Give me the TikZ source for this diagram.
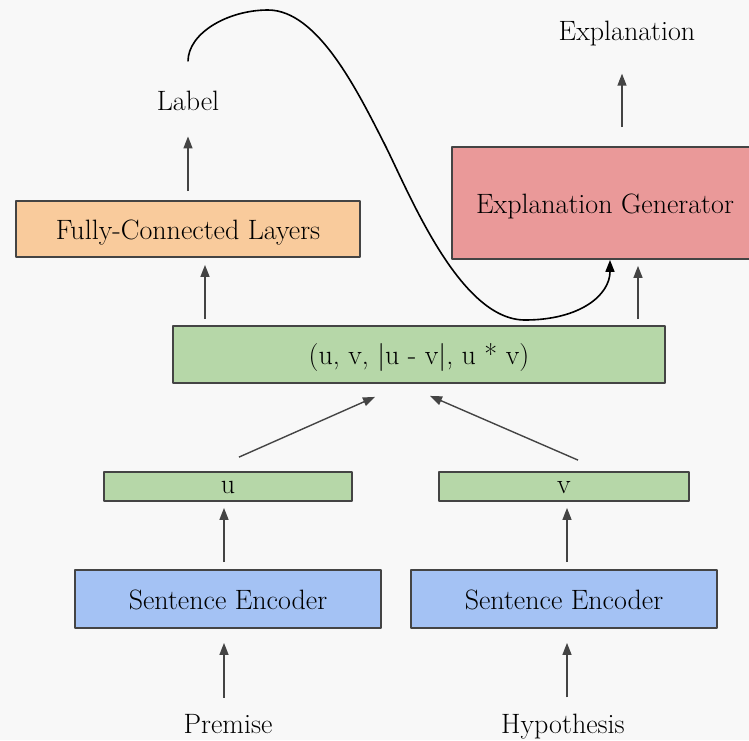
\documentclass[tikz,border=0pt]{standalone}
\usepackage{xcolor}
\usetikzlibrary{arrows.meta,calc,positioning}
\definecolor{PageGray}{HTML}{F8F8F8}
\definecolor{LineGray}{HTML}{444444}
\definecolor{FcFill}{HTML}{F9CB9C}
\definecolor{GenFill}{HTML}{EA9999}
\definecolor{VecFill}{HTML}{B6D7A8}
\definecolor{EncFill}{HTML}{A4C2F4}

\begin{document}
\begin{tikzpicture}[x=1pt,y=-1pt, line join=round,
  box/.style={draw=LineGray, line width=1.8pt, inner sep=0pt, text height=22pt, text depth=2pt,
              font=\fontsize{28}{32}\selectfont},
  word/.style={inner sep=0pt, anchor=base, font=\fontsize{28}{32}\selectfont},
  arr/.style={-{Triangle[length=12pt,width=9pt]}, LineGray, line width=1.4pt},
  curvearr/.style={-{Triangle[length=12pt,width=9pt]}, black, line width=1.6pt}]

% page
\useasboundingbox (0,0) rectangle (749,740);
\fill[PageGray] (0,0) rectangle (749,740);

% boxes
\node[box, fill=FcFill, minimum width=344pt, minimum height=56pt] (fc) at (188,229) {Fully-Connected Layers};
\node[box, fill=GenFill, minimum width=306pt, minimum height=112pt] (gen) at (605,203) {Explanation Generator};
\node[box, fill=VecFill, minimum width=492pt, minimum height=57pt] (feat) at (419,354.5) {(u, v, |u - v|, u * v)};
\node[box, fill=VecFill, minimum width=248pt, minimum height=29pt, text height=14pt, text depth=0pt] (uvec) at (228,486.5) {u};
\node[box, fill=VecFill, minimum width=250pt, minimum height=29pt, text height=14pt, text depth=0pt] (vvec) at (564,486.5) {v};
\node[box, fill=EncFill, minimum width=306pt, minimum height=58pt] (encp) at (228,599) {Sentence Encoder};
\node[box, fill=EncFill, minimum width=306pt, minimum height=58pt] (ench) at (564,599) {Sentence Encoder};

% texts
\node[word] (lbl) at (188,110) {Label};
\node[word] (expl) at (627,40) {Explanation};
\node[word] (prem) at (228,733) {Premise};
\node[word] (hyp) at (563,733) {Hypothesis};

% inputs to encoders
\draw[arr] ([xshift=-4pt,yshift=16pt]prem.north) -- ([xshift=-4pt,yshift=-14pt]encp.south);
\draw[arr] ([xshift=4pt,yshift=16pt]hyp.north) -- ([xshift=3pt,yshift=-14pt]ench.south);

% encoders to vectors
\draw[arr] ([xshift=-4pt,yshift=7pt]encp.north) -- ([xshift=-4pt,yshift=-6pt]uvec.south);
\draw[arr] ([xshift=3pt,yshift=7pt]ench.north) -- ([xshift=3pt,yshift=-6pt]vvec.south);

% vectors to features
\draw[arr] ([xshift=11pt,yshift=14pt]uvec.north) -- ([xshift=-44pt,yshift=-13pt]feat.south);
\draw[arr] ([xshift=14pt,yshift=11pt]vvec.north) -- ([xshift=11pt,yshift=-12pt]feat.south);

% features to heads
\draw[arr] ([xshift=-214pt,yshift=6pt]feat.north) -- ([xshift=17pt,yshift=-7pt]fc.south);
\draw[arr] ([xshift=219pt,yshift=6pt]feat.north) -- ([xshift=33pt,yshift=-6pt]gen.south);

% outputs
\draw[arr] ([yshift=9pt]fc.north) -- ([yshift=-26pt]lbl.south);
\draw[arr] ([xshift=17pt,yshift=19pt]gen.north) -- ([xshift=-5pt,yshift=-28pt]expl.south);

% label fed back to the generator
\draw[curvearr] ([yshift=29pt]lbl.north) .. controls (188,33) and (228,10) .. (268,10)
  .. controls (318,10) and (358,92) .. (385,145)
  .. controls (410,195) and (460,320) .. (525,320)
  .. controls (580,320) and (610,295) .. ([xshift=5pt]gen.south);

\end{tikzpicture}
\end{document}
